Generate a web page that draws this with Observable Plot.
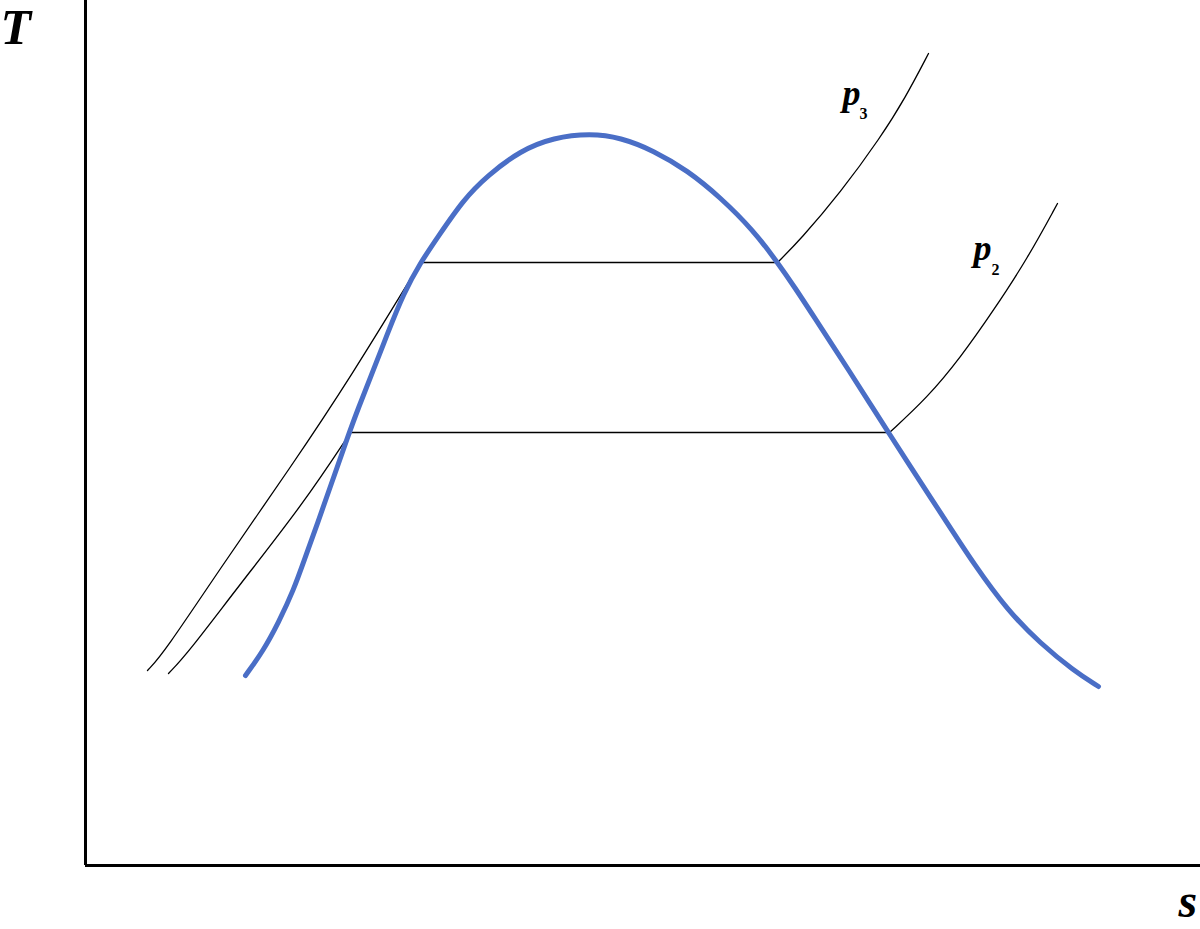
<!DOCTYPE html>
<html>
<head>
<meta charset="utf-8">
<script src="https://cdn.jsdelivr.net/npm/d3@7"></script>
<script src="https://cdn.jsdelivr.net/npm/@observablehq/plot@0.6"></script>
<style>
  html, body { margin: 0; padding: 0; background: #fff; overflow: hidden; }
</style>
</head>
<body>
<div id="chart"></div>
<script>
// Saturation dome (entropy s, temperature T), arbitrary units
const domeS = [1.60,1.78,1.93,2.08,2.20,2.32,2.47,2.62,2.73,2.85,3.02,3.18,3.35,3.52,3.78,4.02,4.35,4.68,5.05,5.35,5.68,6.02,6.35,6.68,6.92,7.10,7.25,7.68,7.85,8.03,8.21,8.62,8.88,9.22,9.55,9.88,10.13];
const domeT = [1.90,2.15,2.43,2.75,3.09,3.42,3.85,4.28,4.58,4.88,5.32,5.72,6.03,6.28,6.66,6.90,7.15,7.28,7.32,7.28,7.15,6.95,6.68,6.35,6.03,5.77,5.54,4.88,4.61,4.33,4.05,3.42,3.02,2.55,2.22,1.95,1.79];

// Isobar p3: liquid branch, two-phase plateau, superheated branch
const p3LiquidS = [0.62,0.78,1.38,2.05,2.65,3.35];
const p3LiquidT = [1.95,2.12,3.02,3.98,4.88,6.03];
const p3MixS = [3.35,6.92];
const p3MixT = [6.03,6.03];
const p3VaporS = [6.92,7.15,7.55,7.95,8.20,8.43];
const p3VaporT = [6.03,6.26,6.73,7.28,7.68,8.12];

// Isobar p2
const p2LiquidS = [0.83,1.02,1.52,2.18,2.65];
const p2LiquidT = [1.92,2.12,2.78,3.62,4.33];
const p2MixS = [2.65,8.04];
const p2MixT = [4.33,4.33];
const p2VaporS = [8.04,8.42,8.75,9.08,9.42,9.72];
const p2VaporT = [4.33,4.68,5.08,5.55,6.07,6.62];

// Labels
const axisLabels = ["T", "s"];
const axisLabelS = [-0.85, 10.93];
const axisLabelT = [8.22, -0.51];
const isobarNames = ["p", "p"];
const isobarSubs = ["3", "2"];
const isobarNameS = [7.57, 8.88];
const isobarNameT = [7.61, 6.06];
const isobarSubS = [7.74, 9.06];
const isobarSubT = [7.47, 5.91];

const zip = (S, T, id) => S.map((s, i) => ({s, T: T[i], id}));
const dome = zip(domeS, domeT, "dome");
const isobars = [
  ...zip(p3LiquidS, p3LiquidT, "p3l"),
  ...zip(p3MixS, p3MixT, "p3m"),
  ...zip(p3VaporS, p3VaporT, "p3v"),
  ...zip(p2LiquidS, p2LiquidT, "p2l"),
  ...zip(p2MixS, p2MixT, "p2m"),
  ...zip(p2VaporS, p2VaporT, "p2v")
];
const axisLabelData = axisLabels.map((t, i) => ({t, s: axisLabelS[i], T: axisLabelT[i]}));
const nameData = isobarNames.map((t, i) => ({t, s: isobarNameS[i], T: isobarNameT[i]}));
const subData = isobarSubs.map((t, i) => ({t, s: isobarSubS[i], T: isobarSubT[i]}));

const font = "'Liberation Serif', 'Times New Roman', serif";

const chart = Plot.plot({
  width: 1200,
  height: 929,
  marginLeft: 85,
  marginRight: 0,
  marginTop: 0,
  marginBottom: 64,
  x: {domain: [0, 11.15], axis: null},
  y: {domain: [0, 8.65], axis: null},
  style: {background: "#fff", overflow: "visible"},
  marks: [
    Plot.line(isobars, {x: "s", y: "T", z: "id", curve: "basis", stroke: "#000", strokeWidth: 1.3}),
    Plot.line(dome, {x: "s", y: "T", curve: "basis", stroke: "#4a6ec6", strokeWidth: 5, strokeLinecap: "round"}),
    Plot.ruleX([0], {stroke: "#000", strokeWidth: 3}),
    Plot.ruleY([0], {stroke: "#000", strokeWidth: 3}),
    Plot.text(axisLabelData.slice(0, 1), {x: "s", y: "T", text: "t", textAnchor: "start", lineAnchor: "bottom", fontSize: 50, fontStyle: "italic", fontWeight: "bold", fontFamily: font, fill: "#000"}),
    Plot.text(axisLabelData.slice(1), {x: "s", y: "T", text: "t", textAnchor: "start", lineAnchor: "bottom", fontSize: 48, fontStyle: "italic", fontWeight: "bold", fontFamily: font, fill: "#000"}),
    Plot.text(nameData, {x: "s", y: "T", text: "t", textAnchor: "start", lineAnchor: "bottom", fontSize: 36, fontStyle: "italic", fontWeight: "bold", fontFamily: font, fill: "#000"}),
    Plot.text(subData, {x: "s", y: "T", text: "t", textAnchor: "start", lineAnchor: "bottom", fontSize: 16, fontWeight: "bold", fontFamily: font, fill: "#000"})
  ]
});
document.getElementById("chart").appendChild(chart);
</script>
</body>
</html>
